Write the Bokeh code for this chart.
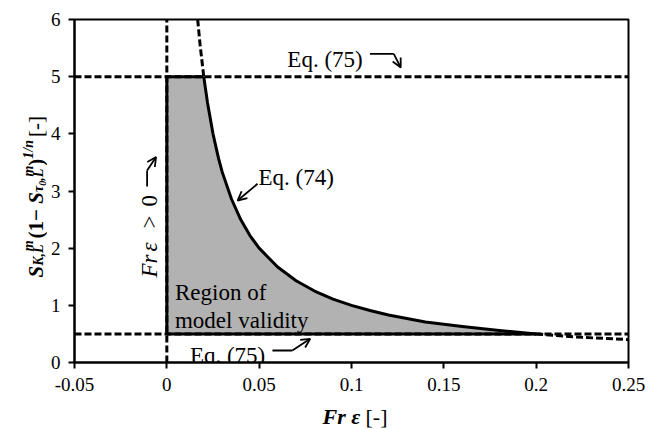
import math
from bokeh.plotting import figure
from bokeh.models import Range1d, FixedTicker, Label, Arrow, OpenHead
from bokeh.layouts import row, column
from bokeh.embed import file_html
from bokeh.resources import INLINE

# ---------------- data ----------------
x_curve = [0.0167, 0.018, 0.02, 0.022, 0.025, 0.028, 0.03, 0.035, 0.04, 0.045, 0.05,
           0.06, 0.07, 0.08, 0.09, 0.1, 0.11, 0.12, 0.14, 0.16, 0.18, 0.2, 0.225, 0.25]
y_curve = [6.0, 5.56, 5.0, 4.55, 4.0, 3.57, 3.33, 2.86, 2.5, 2.22, 2.0,
           1.67, 1.43, 1.25, 1.11, 1.0, 0.91, 0.83, 0.71, 0.63, 0.56, 0.5, 0.44, 0.4]
x_bounds = [-0.05, 0.25]
y_bounds = [0, 6]
x_ticks = [-0.05, 0, 0.05, 0.1, 0.15, 0.2, 0.25]
x_tick_labels = ["-0.05", "0", "0.05", "0.1", "0.15", "0.2", "0.25"]
y_ticks = [0, 1, 2, 3, 4, 5, 6]
y_tick_labels = ["0", "1", "2", "3", "4", "5", "6"]
eq75_upper = 5.0
eq75_lower = 0.5
fr_eps_limit = 0.0

# ---------------- layout (pixels) ----------------
TOTAL_W, TOTAL_H = 649, 429
YLAB_W = 47                 # left strip for the y-axis title
MAIN_H = 400                # main figure height
XLAB_H = TOTAL_H - MAIN_H   # bottom strip for the x-axis title
FRAME_L, FRAME_R, FRAME_T, FRAME_B = 71, 628, 19, 362   # frame edges in page pixels
FONT = "Liberation Serif"


def X(img_x):
    return x_bounds[0] + (img_x - FRAME_L) / (FRAME_R - FRAME_L) * (x_bounds[1] - x_bounds[0])


def Y(img_y):
    return y_bounds[1] - (img_y - FRAME_T) / (FRAME_B - FRAME_T) * (y_bounds[1] - y_bounds[0])


p = figure(width=TOTAL_W - YLAB_W, height=MAIN_H, output_backend="svg", toolbar_location=None,
           x_range=Range1d(*x_bounds), y_range=Range1d(*y_bounds),
           min_border_left=FRAME_L - YLAB_W, min_border_right=TOTAL_W - FRAME_R,
           min_border_top=FRAME_T, min_border_bottom=MAIN_H - FRAME_B)
p.background_fill_color = "white"
p.border_fill_color = "white"
p.outline_line_color = "black"
p.outline_line_width = 2
p.grid.visible = False

for ax in (p.xaxis[0], p.yaxis[0]):
    ax.axis_line_width = 2
    ax.major_tick_line_width = 2
    ax.major_tick_out = 6
    ax.major_tick_in = 0
    ax.minor_tick_line_color = None
    ax.major_label_text_font = FONT
    ax.major_label_text_font_size = "19px"
    ax.major_label_text_color = "black"
    ax.axis_line_color = "black"
    ax.major_tick_line_color = "black"
p.xaxis.major_label_standoff = 9
p.yaxis.major_label_standoff = 8

p.xaxis.ticker = FixedTicker(ticks=x_ticks)
p.xaxis.major_label_overrides = {t: l for t, l in zip(x_ticks, x_tick_labels)}
p.yaxis.ticker = FixedTicker(ticks=y_ticks)
p.yaxis.major_label_overrides = {t: l for t, l in zip(y_ticks, y_tick_labels)}

# split curve
solid_x = [x for x, y in zip(x_curve, y_curve) if eq75_lower <= y <= eq75_upper]
solid_y = [y for y in y_curve if eq75_lower <= y <= eq75_upper]
top_x = [x for x, y in zip(x_curve, y_curve) if y >= eq75_upper]
top_y = [y for y in y_curve if y >= eq75_upper]
right_x = [x for x, y in zip(x_curve, y_curve) if y <= eq75_lower]
right_y = [y for y in y_curve if y <= eq75_lower]

# region fill
p.patch([fr_eps_limit] + solid_x + [fr_eps_limit],
        [eq75_upper] + solid_y + [eq75_lower],
        fill_color="#b2b2b2", line_color=None)

DASH = "7 3"
DW = 3
SW = 3
p.line(x_bounds, [eq75_upper, eq75_upper], line_color="black", line_width=DW, line_dash=DASH)
p.line(x_bounds, [eq75_lower, eq75_lower], line_color="black", line_width=DW, line_dash=DASH)
p.line([fr_eps_limit, fr_eps_limit], y_bounds, line_color="black", line_width=DW, line_dash=DASH)
p.line(top_x, top_y, line_color="black", line_width=DW, line_dash=DASH)
p.line(right_x, right_y, line_color="black", line_width=DW, line_dash=DASH)

# solid boundary of the region
p.line([fr_eps_limit, fr_eps_limit], [eq75_lower, eq75_upper], line_color="black", line_width=SW)
p.line([fr_eps_limit, solid_x[0]], [eq75_upper, eq75_upper], line_color="black", line_width=SW)
p.line([fr_eps_limit, solid_x[-1]], [eq75_lower, eq75_lower], line_color="black", line_width=SW)
p.line(solid_x, solid_y, line_color="black", line_width=SW, line_join="round")


def label(fig, x, y, text, size="23px", style="normal", angle=0.0):
    fig.add_layout(Label(x=x, y=y, text=text, text_font=FONT, text_font_size=size,
                         text_font_style=style, text_color="black", angle=angle,
                         text_align="left", text_baseline="alphabetic"))


def arrow(x0, y0, x1, y1, head=True):
    p.add_layout(Arrow(x_start=x0, y_start=y0, x_end=x1, y_end=y1, line_width=1.8,
                       line_color="black",
                       end=OpenHead(size=9, line_width=1.8, line_color="black") if head else None))


# annotations inside the plot
label(p, X(285), Y(59), "Eq. (75)")
arrow(X(368), Y(53.3), X(392), Y(53.3), head=False)
arrow(X(392), Y(53.3), X(399), Y(67))

label(p, X(256), Y(176.7), "Eq. (74)")
arrow(X(255), Y(183.3), X(235), Y(200))

label(p, X(187), Y(355), "Eq. (75)")
arrow(X(270), Y(350), X(290), Y(350), head=False)
arrow(X(290), Y(350), X(308), Y(338.3))

label(p, X(172), Y(292.3), "Region of")
label(p, X(172), Y(320), "model validity")

# "Fr eps > 0" written upwards
R90 = math.pi / 2
label(p, X(146), Y(277), "Fr", style="italic", angle=R90)
label(p, X(146), Y(251), "\u03b5", style="italic", angle=R90)
label(p, X(146), Y(228), ">", angle=R90)
label(p, X(146), Y(206), "0", angle=R90)
arrow(X(144), Y(186), X(144), Y(170), head=False)
arrow(X(144), Y(170), X(153), Y(156.5))


def blank(w, h, top=0, bottom=0):
    f = figure(width=w, height=h, output_backend="svg", toolbar_location=None,
               x_range=Range1d(0, w), y_range=Range1d(0, h - top - bottom),
               min_border_left=0, min_border_right=0,
               min_border_top=top, min_border_bottom=bottom,
               x_axis_location=None, y_axis_location=None)
    f.outline_line_color = None
    f.background_fill_color = "white"
    f.border_fill_color = "white"
    f.xgrid.visible = False
    f.ygrid.visible = False
    return f


# y-axis title strip: same vertical frame as the main plot; y = FRAME_B - page_y
yfig = blank(YLAB_W, MAIN_H, top=FRAME_T, bottom=MAIN_H - FRAME_B)
base_x = 35
start_y = 277
ylab = [  # text, size, style, baseline shift (px, + = subscript), offset along text (px)
    ("S", 21, "bold italic", 0, 0.0),
    ("K,L", 14, "bold italic", 3.3, 11.7),
    ("m", 14, "bold italic", -7.5, 26.2),
    (" (1\u2212", 21, "bold", 0, 39.1),
    ("S", 21, "bold italic", 0, 73.8),
    ("\u03c4", 14, "bold italic", 3.3, 85.5),
    ("0", 10, "bold italic", 6.5, 91.7),
    (",L", 14, "bold italic", 3.3, 96.7),
    ("m", 14, "bold italic", -7.5, 100.9),
    (")", 21, "bold", 0, 111.8),
    ("1/n", 14, "bold italic", -7.5, 118.8),
    (" [-]", 21, "normal", 0, 140.5),
]
for txt, sz, st, shift, off in ylab:
    label(yfig, base_x + shift, FRAME_B - start_y + off, txt, size=f"{sz}px", style=st, angle=R90)

# x-axis title strip
xfig = blank(TOTAL_W, XLAB_H)
label(xfig, 322, TOTAL_H - 416, "Fr \u03b5", size="22px", style="bold italic")
label(xfig, 365, TOTAL_H - 416, "[-]", size="22px", style="normal")

layout = column(row(yfig, p, spacing=0), xfig, spacing=0)
open("out.html", "w").write(file_html(layout, INLINE))
